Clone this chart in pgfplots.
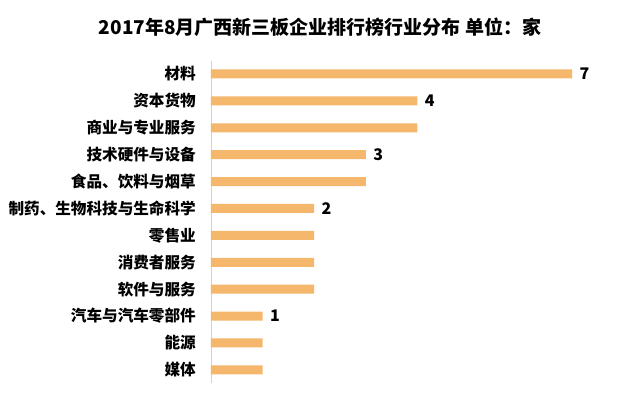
\documentclass[border=0pt]{standalone}
\usepackage{fontspec}
\setmainfont{Noto Sans CJK SC}
\usepackage{pgfplots}
\pgfplotsset{compat=1.18}
\definecolor{barc}{RGB}{244,183,108}
\begin{document}
\begin{tikzpicture}[x=1pt,y=1pt]
\path[use as bounding box] (0,0) rectangle (640,400);
\node[font=\bfseries\fontsize{19}{19}\selectfont] at (320,373) {2017年8月广西新三板企业排行榜行业分布\ 单位：家};
\begin{axis}[
  at={(211pt,16.7pt)}, anchor=south west,
  scale only axis, width=412.8pt, height=322.8pt,
  xbar, bar width=9pt,
  xmin=0, xmax=8, ymin=-0.5, ymax=11.5,
  y dir=reverse,
  axis x line=none, axis y line*=left,
  y axis line style={draw=gray!35},
  ytick={0,...,11},
  yticklabels={材料,资本货物,商业与专业服务,技术硬件与设备,食品、饮料与烟草,制药、生物科技与生命科学,零售业,消费者服务,软件与服务,汽车与汽车零部件,能源,媒体},
  major tick length=0pt,
  yticklabel style={font=\bfseries\fontsize{15.6}{15.6}\selectfont, inner sep=0pt, xshift=-15pt},
  clip=false,
]
\addplot[fill=barc, draw=none, point meta=explicit symbolic,
  nodes near coords,
  nodes near coords style={anchor=west, xshift=4pt, font=\bfseries\fontsize{16}{16}\selectfont}]
  coordinates {
  (7,0) [7]
  (4,1) [4]
  (4,2) []
  (3,3) [3]
  (3,4) []
  (2,5) [2]
  (2,6) []
  (2,7) []
  (2,8) []
  (1,9) [1]
  (1,10) []
  (1,11) []
  };
\end{axis}
\end{tikzpicture}
\end{document}
